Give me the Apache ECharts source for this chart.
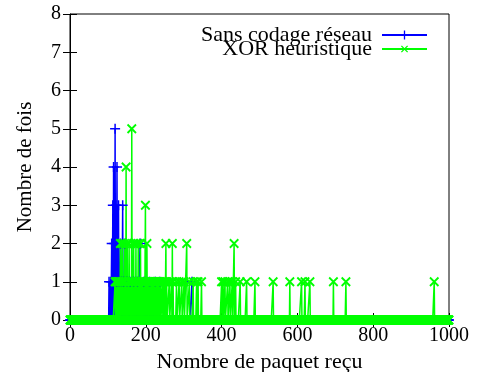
<!DOCTYPE html>
<html>
<head>
<meta charset="utf-8">
<script src="https://cdn.jsdelivr.net/npm/echarts@6/dist/echarts.min.js"></script>
<style>
  html, body { margin: 0; padding: 0; background: #fff; }
  #chart { width: 477px; height: 372px; }
</style>
</head>
<body>
<div id="chart"></div>
<script>
// nombre de paquets (axe x) : 0..1000
const xMin = 0
const xMax = 1000
const xTicks = [0, 200, 400, 600, 800, 1000]
const yTicks = [0, 1, 2, 3, 4, 5, 6, 7, 8]

// valeurs non nulles, toutes les autres valent 0
// Sans codage réseau
const sansX = [103, 107, 110, 112, 113, 115, 117, 119, 121, 123, 124, 126, 128, 130, 133, 136, 139, 142, 145, 150, 158, 168, 178, 185, 195, 210, 225, 237, 322]
const sansY = [1, 1, 2, 1, 3, 4, 2, 5, 3, 1, 4, 2, 3, 1, 2, 1, 3, 1, 2, 1, 1, 1, 1, 2, 1, 1, 1, 1, 1]

// XOR heuristique
const xorX = [119, 122, 125, 127, 129, 131, 133, 134, 138, 140, 144, 146, 148, 151, 154, 156, 159, 161, 163, 165, 167, 168, 172, 174, 178, 180, 184, 186, 188, 190, 192, 194, 196, 199, 201, 203, 206, 208, 210, 212, 214, 217, 219, 221, 224, 226, 229, 231, 234, 236, 239, 244, 246, 250, 253, 255, 262, 268, 270, 272, 281, 288, 295, 301, 308, 315, 325, 334, 338, 347, 400, 404, 409, 416, 422, 428, 433, 437, 449, 466, 488, 536, 580, 611, 620, 633, 695, 728, 961]
const xorY = [1, 1, 1, 1, 1, 1, 2, 1, 2, 1, 2, 1, 4, 2, 1, 2, 1, 1, 5, 1, 1, 2, 1, 2, 1, 2, 1, 2, 1, 1, 1, 1, 1, 3, 1, 2, 1, 1, 1, 1, 1, 1, 1, 1, 1, 1, 1, 1, 1, 1, 1, 1, 1, 1, 2, 1, 1, 1, 2, 1, 1, 1, 1, 1, 2, 1, 1, 1, 1, 1, 1, 1, 1, 1, 1, 1, 2, 1, 1, 1, 1, 1, 1, 1, 1, 1, 1, 1, 1]

function buildSeries(xs, ys){
  const map = {}
  xs.forEach((x, i) => { map[x] = ys[i] })
  const data = []
  for (let x = xMin; x <= xMax; x++) {
    data.push([x, map[x] || 0])
  }
  return data
}

const crossPath = 'path://M4.25,0h1.5v10h-1.5z M0,4.25h10v1.5h-10z'
const serif = 'Liberation Serif'

const legendText = { fontFamily: serif, fontSize: 22, color: '#000', padding: [0, 5, 0, 0] }

const myChart = echarts.init(document.getElementById('chart'))
const option = {
  animation: false,
  backgroundColor: '#fff',
  textStyle: { fontFamily: serif, color: '#000' },
  grid: {
    left: 70,
    right: 28,
    top: 14,
    bottom: 52,
    containLabel: false,
    outerBoundsMode: 'none',
    show: true,
    borderColor: '#000',
    borderWidth: 1
  },
  legend: [
    {
      data: ['Sans codage réseau'],
      right: 49,
      top: 24,
      align: 'right',
      itemWidth: 45,
      itemHeight: 11,
      itemGap: 0,
      padding: 0,
      textStyle: legendText
    },
    {
      data: ['XOR heuristique'],
      right: 49,
      top: 38,
      align: 'right',
      itemWidth: 45,
      itemHeight: 11,
      itemGap: 0,
      padding: 0,
      textStyle: legendText
    }
  ],
  xAxis: [
    {
      type: 'value',
      min: xMin,
      max: xMax,
      interval: 200,
      name: 'Nombre de paquet reçu',
      nameLocation: 'middle',
      nameGap: 26,
      nameTextStyle: { fontFamily: serif, fontSize: 22, color: '#000' },
      axisLine: { show: true, onZero: false, lineStyle: { color: '#000', width: 1 } },
      axisTick: { show: true, inside: true, length: 7, lineStyle: { color: '#000' } },
      axisLabel: {
        fontFamily: serif, fontSize: 20, color: '#000', margin: 6,
        formatter: v => (xTicks.indexOf(v) >= 0 ? String(v) : '')
      },
      splitLine: { show: false }
    },
    {
      type: 'value',
      position: 'top',
      min: xMin,
      max: xMax,
      interval: 200,
      axisLine: { show: false },
      axisTick: { show: true, inside: true, length: 7, lineStyle: { color: '#000' } },
      axisLabel: { show: false },
      splitLine: { show: false }
    }
  ],
  yAxis: [
    {
      type: 'value',
      min: 0,
      max: 8,
      interval: 1,
      name: 'Nombre de fois',
      nameLocation: 'middle',
      nameGap: 34,
      nameRotate: 90,
      nameTextStyle: { fontFamily: serif, fontSize: 21, color: '#000' },
      axisLine: { show: true, onZero: false, lineStyle: { color: '#000', width: 1 } },
      axisTick: { show: true, inside: true, length: 7, lineStyle: { color: '#000' } },
      axisLabel: {
        fontFamily: serif, fontSize: 20, color: '#000', margin: 9,
        formatter: v => (yTicks.indexOf(v) >= 0 ? String(v) : '')
      },
      splitLine: { show: false }
    },
    {
      type: 'value',
      position: 'right',
      min: 0,
      max: 8,
      interval: 1,
      axisLine: { show: false },
      axisTick: { show: true, inside: true, length: 7, lineStyle: { color: '#000' } },
      axisLabel: { show: false },
      splitLine: { show: false }
    }
  ],
  series: [
    {
      name: 'Sans codage réseau',
      type: 'line',
      data: buildSeries(sansX, sansY),
      showAllSymbol: true,
      symbol: crossPath,
      symbolSize: 10,
      color: '#0000ff',
      itemStyle: { color: '#0000ff', borderWidth: 0 },
      lineStyle: { color: '#0000ff', width: 1.5 },
      emphasis: { disabled: true }
    },
    {
      name: 'XOR heuristique',
      type: 'line',
      data: buildSeries(xorX, xorY),
      showAllSymbol: true,
      symbol: crossPath,
      symbolRotate: 45,
      symbolSize: 12,
      color: '#00ff00',
      itemStyle: { color: '#00ff00', borderWidth: 0 },
      lineStyle: { color: '#00ff00', width: 1.5 },
      emphasis: { disabled: true }
    }
  ]
}
myChart.setOption(option)
window.addEventListener('resize', function () {
  myChart.resize()
})
</script>
</body>
</html>
